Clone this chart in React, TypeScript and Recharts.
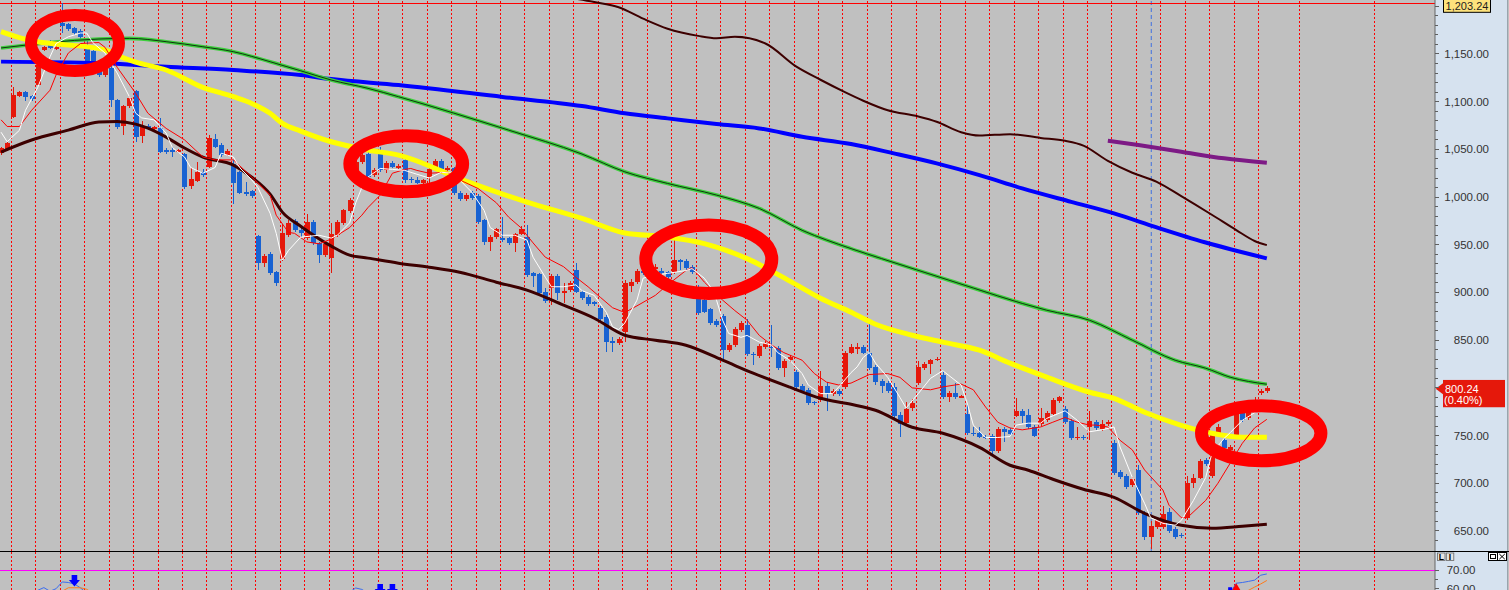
import React from 'react'
import {
  ComposedChart,
  Bar,
  Line,
  XAxis,
  YAxis,
  ReferenceLine,
  ReferenceDot,
} from 'recharts'

// ---- candles (one entry per bar) ----
const OPEN = [
  1046, 1050, 1084, 1106, 1110, 1106, 1118, 1154, 1159, 1155,
  1183, 1181, 1177, 1174, 1155, 1153, 1140, 1128, 1135, 1102,
  1074, 1095, 1111, 1064, 1075, 1071, 1072, 1049, 1049, 1047,
  1045, 1012, 1017, 1026, 1032, 1061, 1055, 1044, 1035, 1026,
  1005, 1006, 959, 931, 940, 921, 935, 960, 975, 966,
  957, 974, 952, 939, 936, 960, 973, 985, 1025, 1037,
  1045, 1023, 1046, 1028, 1036, 1031, 1039, 1019, 1018, 1015,
  1021, 1031, 1038, 1028, 1030, 1004, 998, 1004, 1001, 976,
  953, 958, 957, 957, 952, 961, 958, 920, 919, 900,
  905, 917, 899, 903, 924, 901, 895, 890, 884, 874,
  849, 847, 859, 907, 911, 923, 922, 925, 922, 921,
  921, 934, 933, 927, 905, 892, 883, 870, 875, 840,
  845, 861, 866, 836, 833, 843, 843, 842, 821, 829,
  817, 802, 798, 785, 787, 802, 794, 797, 801, 837,
  841, 843, 837, 822, 807, 805, 801, 772, 763, 779,
  805, 821, 825, 829, 813, 790, 795, 790, 773, 753,
  753, 748.5, 750, 734, 757, 756, 771, 776, 772, 759,
  762, 766, 773, 786, 778, 765, 747, 749, 759, 764,
  757, 762, 742, 712, 708, 698, 714, 669, 644, 654,
  654, 670, 652, 646, 664, 700, 706, 724, 708, 753,
  745, 735, 751, 775, 768, 782, 795, 797,
]
const HIGH = [
  1053, 1058, 1115, 1111, 1111, 1107, 1140, 1158, 1165, 1158,
  1203.24, 1183, 1178, 1176, 1165, 1155, 1142, 1140, 1137, 1103,
  1097, 1106, 1112, 1080, 1077, 1075, 1083, 1051, 1052, 1050,
  1046, 1030, 1037, 1029, 1065, 1066, 1057, 1050, 1039, 1027,
  1016, 1007, 960, 940, 942, 922, 972, 976, 977, 969,
  982, 976, 953, 953, 973, 976, 988, 999, 1040, 1046,
  1047, 1030, 1053, 1038, 1038, 1035, 1041, 1021, 1021, 1019,
  1030, 1040, 1040, 1033, 1032, 1006, 1004, 1006, 1003, 977,
  960, 968, 979, 958, 962, 970, 971, 921, 920, 905,
  919, 919, 910, 912, 931, 903, 897, 891, 886, 876,
  853, 853, 913, 914, 925, 925, 931, 930, 926, 922,
  957, 935, 935, 929, 908, 894, 884, 872, 877, 847,
  864, 870, 872, 838, 846, 849, 866, 844, 830, 834,
  819, 804, 800, 786, 818, 806, 799, 799, 839, 846,
  847, 845, 868, 824, 809, 807, 805, 775, 785, 788,
  828, 827, 830, 832, 818, 797, 805, 793, 783, 759,
  759, 751, 752, 759, 759, 758, 789, 778, 778, 761,
  779, 776, 789, 792, 781, 767, 759, 751, 776, 766,
  766, 766, 745, 714, 710, 707, 719, 671, 660, 664,
  676, 674, 654, 648, 708, 710, 725, 726, 754, 762,
  748, 740, 777, 785, 786, 790, 799, 802,
]
const LOW = [
  1044, 1049, 1083, 1105, 1101, 1101, 1117, 1153, 1155, 1154,
  1172, 1174, 1170, 1166, 1140, 1138, 1126, 1126, 1094, 1071,
  1065, 1093, 1058, 1057, 1070, 1069, 1046, 1045, 1042, 1046,
  1008, 1008, 1016, 1021, 1030, 1051, 1042, 1043, 993, 1003,
  1001, 999, 924, 927, 918, 907, 933, 958, 963, 958,
  955, 950, 931, 937, 920, 958, 971, 983, 1023, 1035,
  1019, 1021, 1026, 1025, 1030, 1029, 1015, 1015, 1014, 1014,
  1015, 1030, 1028, 1027, 1002, 996, 996, 997, 972, 950,
  944, 956, 953, 950, 942, 960, 916, 906, 897, 889,
  887, 892, 889, 901, 899, 892, 886, 886, 870, 838,
  838, 845, 848, 901, 909, 918, 920, 922, 919, 914,
  919, 924, 924, 919, 876, 878, 866, 864, 829, 838,
  843, 859, 833, 824, 831, 841, 832, 819, 811, 827,
  799, 795, 782, 782, 785, 776, 792, 792, 799, 835,
  836, 835, 819, 803, 795, 795, 768, 748, 760, 776,
  803, 819, 815, 828, 788, 785, 788, 789, 751, 750,
  747, 746, 731, 732, 743, 750, 769, 763, 757, 748,
  760, 764, 771, 784, 762, 745, 745, 745, 745, 756,
  755, 760, 709, 705, 694, 696, 667, 641, 631, 652,
  652, 648, 642, 643, 662, 695, 704, 718, 706, 751,
  735, 733, 749, 764, 766, 779, 793, 795,
]
const CLOSE = [
  1051, 1057, 1107, 1110, 1105, 1103, 1138, 1157, 1156, 1157,
  1179, 1176, 1172, 1168, 1142, 1140, 1128, 1136, 1102, 1073,
  1095, 1104, 1063, 1074, 1072, 1073, 1047, 1047, 1048, 1049,
  1011, 1019, 1026, 1023, 1062, 1053, 1044, 1048, 1015, 1004,
  1003, 1001, 931, 938, 920, 910, 962, 973, 965, 962,
  974, 952, 939, 951, 961, 974, 986, 997, 1037, 1044,
  1021, 1028, 1028, 1036, 1032, 1033, 1018, 1018, 1015, 1018,
  1029, 1038, 1029, 1031, 1004, 998, 1002, 999, 974, 953,
  958, 967, 955, 952, 961, 967, 918, 917, 899, 891,
  917, 899, 902, 910, 901, 894, 888, 888, 872, 848,
  847, 851, 910, 911, 922, 920, 929, 927, 921, 916,
  934, 932, 926, 921, 879, 880, 868, 866, 840, 845,
  862, 868, 835, 834, 844, 847, 842, 821, 828, 832,
  801, 797, 784, 784, 802, 794, 797, 794, 837, 843,
  843, 837, 821, 806, 802, 797, 770, 762, 778, 784,
  822, 825, 829, 830, 790, 795, 790, 791, 753, 752,
  748, 748, 734, 757, 754, 752, 776, 770, 759, 750,
  768, 774, 787, 790, 764, 747, 748.5, 747, 765, 758,
  762, 764, 711, 707, 696, 705, 669, 644, 655, 662,
  668, 650, 644, 645, 700, 706, 723, 720, 752, 759,
  737, 738, 775, 766, 780, 787, 797, 800.24,
]

// ---- overlay lines, [bar index, value] ----
const WHITE_MA = [
  [0, 1068], [1, 1058], [3, 1070], [4, 1091], [6, 1115], [8, 1147], [9, 1161], [11, 1168], [13, 1172], [14, 1172],
  [15, 1162], [17, 1151], [19, 1130], [21, 1105], [22, 1088], [23, 1083], [25, 1081], [27, 1067], [28, 1052], [30, 1042],
  [31, 1031], [33, 1025], [35, 1031], [36, 1046], [38, 1042], [39, 1031], [41, 1018], [42, 1010], [44, 983], [45, 962],
  [46, 934], [47, 944], [49, 958], [52, 960], [54, 957], [55, 960], [57, 973], [58, 994], [59, 1010], [60, 1021],
  [62, 1030], [64, 1029], [66, 1028], [68, 1024], [70, 1020], [72, 1026], [74, 1025], [75, 1018], [77, 1005], [79, 986],
  [80, 968], [82, 960], [84, 960], [86, 955], [87, 937], [89, 916], [90, 906], [92, 906], [94, 908], [95, 902],
  [97, 897], [99, 879], [100, 864], [101, 861], [102, 868], [104, 892], [105, 915], [107, 918], [109, 920], [112, 923],
  [113, 925], [115, 915], [116, 906], [117, 892], [118, 871], [119, 857], [121, 853], [122, 855], [124, 848], [126, 845],
  [127, 837], [129, 829], [131, 815], [132, 803], [134, 794], [136, 794], [137, 801], [139, 816], [140, 822], [141, 832],
  [142, 837], [143, 826], [145, 811], [147, 790], [148, 779], [150, 794], [152, 810], [154, 818], [155, 813], [157, 803],
  [158, 784], [159, 761], [161, 748], [163, 748], [165, 749], [166, 761], [168, 763], [170, 763], [171, 768], [174, 776],
  [176, 766], [178, 754], [180, 756], [182, 759], [183, 738], [185, 706], [187, 679], [188, 664], [190, 658], [192, 656],
  [193, 661], [195, 682], [197, 706], [198, 731], [200, 747], [201, 753], [203, 766], [205, 774], [206, 780], [207, 787],
]
const RED_MA = [
  [0, 1081], [1, 1074], [3, 1074], [5, 1091], [8, 1112], [9, 1128], [11, 1151], [13, 1161], [16, 1162], [17, 1157],
  [19, 1136], [22, 1109], [24, 1088], [27, 1072], [30, 1060], [33, 1042], [35, 1039], [38, 1039], [41, 1021], [44, 1002],
  [45, 981], [47, 963], [48, 962], [50, 953], [52, 951], [54, 956], [57, 968], [59, 981], [60, 989], [62, 1002],
  [64, 1025], [66, 1029], [67, 1030], [68, 1028], [70, 1025], [73, 1026], [75, 1018], [78, 1009], [81, 994], [83, 979],
  [85, 968], [87, 952], [89, 937], [92, 927], [94, 916], [96, 906], [98, 895], [100, 884], [102, 879], [104, 886],
  [107, 897], [109, 908], [112, 923], [113, 926], [115, 911], [118, 892], [120, 881], [122, 871], [124, 855], [126, 845],
  [128, 837], [131, 829], [133, 815], [135, 806], [137, 803], [139, 805], [140, 808], [142, 814], [145, 815], [147, 811],
  [149, 800], [152, 798], [154, 801], [157, 804], [159, 798], [161, 780], [163, 764], [165, 758], [167, 756], [170, 759],
  [172, 764], [174, 769], [176, 764], [178, 761], [179, 761], [181, 759], [183, 745], [185, 735], [187, 714], [190, 693],
  [191, 677], [193, 664], [194, 664], [197, 682], [199, 700], [201, 721], [203, 742], [205, 758], [207, 767],
]
const YELLOW_MA = [
  [0, 1173.4], [4, 1165.4], [6, 1162.9], [11, 1159.4], [14, 1157.6], [17, 1154.2], [20, 1146], [22, 1141.6], [27, 1133.2],
  [33, 1115], [38, 1105.2], [41, 1098.2], [44, 1087.8], [46, 1077.3], [49, 1069.2], [54, 1058], [60, 1049.3], [65, 1044],
  [76, 1016.7], [86, 994.7], [95, 977.6], [102, 962.4], [109, 958.2], [115, 951.2], [122, 935.5], [129, 911.9], [134, 894],
  [139, 879.3], [143, 866.7], [149, 855.2], [154, 847.9], [160, 839.5], [165, 825.9], [171, 811.2], [178, 795.4],
  [182, 789.1], [187, 774.4], [193, 760.8], [198, 752.4], [203, 748.2], [207, 748.2],
]
const GREEN_MA = [
  [0, 1156.3], [16, 1165.7], [21, 1166.4], [27, 1162.9], [33, 1157.6], [38, 1152.4], [44, 1141.9], [49, 1132.4],
  [54, 1122.7], [60, 1114], [65, 1105.2], [74, 1088.1], [83, 1070.2], [95, 1045.1], [102, 1026.5], [109, 1014.3],
  [117, 1002.1], [124, 988.1], [131, 965.2], [139, 946], [144, 935.5], [155, 912.9], [171, 881.4], [178, 870.9],
  [185, 850], [192, 829], [197, 820.6], [201, 811.2], [207, 803.8],
]
const BLUE_MA = [
  [0, 1142], [16, 1140.5], [27, 1136.6], [38, 1133.2], [49, 1127.9], [54, 1123.7], [65, 1117.4], [82, 1105],
  [95, 1095.4], [102, 1087.8], [109, 1082.5], [117, 1076.5], [124, 1072], [131, 1063.2], [139, 1055.6], [146, 1045.8],
  [153, 1035.3], [160, 1023], [167, 1009.1], [175, 995], [182, 982.9], [189, 968.2], [197, 952.4], [207, 935.7],
]
const BAND_LOW = [
  [0, 1047.2], [5, 1059.8], [11, 1070.2], [16, 1078.6], [19, 1079.2], [22, 1076.5], [24, 1072.3], [27, 1062.9],
  [30, 1051.4], [33, 1041.9], [38, 1033.5], [41, 1020.9], [44, 1003.1], [46, 984.2], [49, 969.5], [54, 948.6],
  [57, 939.1], [60, 936], [65, 930.7], [70, 926.5], [75, 921.3], [81, 910.8], [86, 902.4], [92, 886.7], [97, 873],
  [102, 855.2], [107, 850], [112, 844.7], [118, 829], [123, 815.4], [129, 800.7], [134, 789.1], [139, 782.8],
  [143, 776.5], [149, 758.7], [154, 752.4], [160, 737.7], [165, 718.9], [168, 713.6], [172, 704.2], [177, 693.7],
  [182, 685.3], [187, 668.5], [193, 655.9], [198, 652.8], [203, 654.9], [207, 657],
]
const BAND_HIGH = [
  [93, 1209], [97, 1204.5], [101, 1199], [105, 1187], [109, 1176.5], [114, 1169], [117, 1166.5], [120, 1168],
  [125, 1161], [130, 1137], [134, 1123], [138, 1110], [141, 1101], [145, 1091], [150, 1084.5], [153, 1079],
  [157, 1068], [160, 1064.5], [165, 1066], [170, 1062], [174, 1059], [177, 1054], [181, 1038], [185, 1025.5],
  [189, 1016], [193, 1001], [198, 981.5], [202, 965.4], [205, 954], [207, 949.6],
]
const PURPLE_MA = [[181, 1059], [186, 1054.5], [193, 1047.5], [200, 1040.6], [207, 1035.9]]

// lower pane (oscillator)
const OSC_BLUE = [
  [5, 57], [6, 59], [7, 60.5], [8, 58.5], [9, 59.9], [10, 63.6], [11, 63.3], [12, 62.5], [13, 60.3], [14, 57.5],
  [57, 58], [58, 60.3], [59, 59.5], [60, 57.5],
  [201, 57.5], [202, 62.9], [203, 63.3], [204, 63.9], [205, 64.6], [206, 67.3], [207, 68],
]
const OSC_ORANGE = [
  [10, 58.5], [11, 60.4], [12, 60.4], [13, 60.4], [14, 59.6], [15, 57.5],
  [203, 57], [204, 59], [205, 60.8], [206, 62.5], [207, 64.4],
]
const SELL_ARROWS = [[12, 67.4], [62, 62.5], [64, 62.5]]
const BUY_MARKS = [[202, 62.9]]
const SIGNAL_BOXES = [[201, 60.7]]

// annotation rings: centre [bar index, price]
const HIGHLIGHTS = [[12.09, 1161.5], [66.26, 1034.9], [115.74, 934.9], [206.08, 752.4]]
const RING_SIZE = [[44, 28, 12], [56.4, 28, 13], [63, 34.3, 13], [59.7, 27.5, 13]]

const PERIOD_HIGH = 1203.24
const LAST_PRICE = 800.24
const LAST_CHANGE = '(0.40%)'
const CURSOR_BAR = 188.1

const PRICE_LABELS = [650, 700, 750, 850, 900, 950, 1000, 1050, 1100, 1150] // 800.00 is under the last-price tag
const PRICE_TICKS = Array.from({ length: 57 }, (_, k) => 640 + k * 10)
const OSC_LABELS = [60, 70]
const OSC_TICKS = [60, 65, 70]

// ---- layout ----
const SLOTS = 235
const X_DOMAIN: [number, number] = [-0.5, SLOTS - 0.5]
const CHART_W = 1511 // svg starts 2px left of the page edge
const MAIN_H = 551
const SUB_TOP = 552
const SUB_H = 38
const AXIS_X = 1437 // price axis, in svg coords
const Y_DOMAIN: [number, number] = [629.0, 1206.6]
const OSC_DOMAIN: [number, number] = [59.18, 80.05]
const FONT = '"Liberation Sans", Arial, sans-serif'
const UP = '#e5180b'
const DOWN = '#1862d2'
const BG = '#c0c0c0'
const PANEL = '#d6e2ef'
const AXIS_TEXT = '#333'

// period separators every 4 bars, then two wider ones in the empty future area
const GRID_X = Array.from({ length: 52 }, (_, k) => 1.675 + 4 * k).concat([212.4, 224.6])

const toMap = (pts: number[][]) => new Map(pts.map(([i, v]) => [i, v]))
const SERIES: Record<string, Map<number, number>> = {
  white: toMap(WHITE_MA),
  red: toMap(RED_MA),
  yellow: toMap(YELLOW_MA),
  green: toMap(GREEN_MA),
  blue: toMap(BLUE_MA),
  bandLow: toMap(BAND_LOW),
  bandHigh: toMap(BAND_HIGH),
  purple: toMap(PURPLE_MA),
  oscBlue: toMap(OSC_BLUE),
  oscOrange: toMap(OSC_ORANGE),
}

const rows = Array.from({ length: SLOTS }, (_, i) => {
  const r: any = { i }
  if (i < CLOSE.length) {
    r.o = OPEN[i]
    r.h = HIGH[i]
    r.l = LOW[i]
    r.c = CLOSE[i]
    r.range = [LOW[i], HIGH[i]]
  }
  for (const [k, m] of Object.entries(SERIES)) r[k] = m.has(i) ? m.get(i) : null
  return r
})

const fmt = (v: number) => v.toLocaleString('en-US', { minimumFractionDigits: 2, maximumFractionDigits: 2 })

function Candle(props: any) {
  const { x, y, width, height } = props
  const p = props.payload ?? props
  if (!p || p.o == null || x == null) return null
  const top = Math.min(y, y + height)
  const span = Math.abs(height)
  const k = p.h > p.l ? span / (p.h - p.l) : 0
  const yo = top + (p.h - p.o) * k
  const yc = top + (p.h - p.c) * k
  const fill = p.c >= p.o ? UP : DOWN
  const left = Math.round(x)
  const bw = Math.round(width)
  const mid = left + Math.floor(bw / 2)
  return (
    <g shapeRendering="crispEdges">
      <rect x={mid} y={top} width={1} height={Math.max(span, 1)} fill={fill} />
      <rect x={left} y={Math.min(yo, yc)} width={bw} height={Math.max(Math.abs(yo - yc), 1.2)} fill={fill} />
    </g>
  )
}

function PriceTick(props: any) {
  const v = props.payload.value
  const y = props.y
  const major = v % 50 === 0
  return (
    <g>
      <line x1={AXIS_X} x2={AXIS_X + (major ? 4 : 2.5)} y1={y} y2={y} stroke="#5f5f5f" shapeRendering="crispEdges" />
      {PRICE_LABELS.includes(v) && (
        <text x={AXIS_X + 54} y={y + 4} textAnchor="end" fontSize={11.5} fill={AXIS_TEXT} fontFamily={FONT}>
          {fmt(v)}
        </text>
      )}
    </g>
  )
}

function OscTick(props: any) {
  const v = props.payload.value
  const y = props.y
  return (
    <g>
      <line x1={AXIS_X} x2={AXIS_X + (OSC_LABELS.includes(v) ? 4 : 2.5)} y1={y} y2={y} stroke="#5f5f5f" shapeRendering="crispEdges" />
      {OSC_LABELS.includes(v) && (
        <text x={AXIS_X + 11.7} y={y + 4} fontSize={11.5} fill={AXIS_TEXT} fontFamily={FONT}>
          {fmt(v)}
        </text>
      )}
    </g>
  )
}

const TopTag = (p: any) => (
  <g>
    <rect x={1445.5} y={p.cy - 5.5} width={47} height={14.6} fill="#fde27c" stroke="#000" strokeWidth={1} />
    <text x={1469} y={p.cy + 7} textAnchor="middle" fontSize={11} fill="#1e1e1e" fontFamily={FONT}>
      {fmt(PERIOD_HIGH)}
    </text>
  </g>
)

const LastTag = (p: any) => (
  <g>
    <path d={`M${AXIS_X + 0.7},${p.cy + 1} L${AXIS_X + 8},${p.cy - 4.5} L${AXIS_X + 8},${p.cy + 6.5} Z`} fill={UP} />
    <rect x={1445} y={p.cy - 7.7} width={62} height={27.3} fill={UP} />
    <text x={1447} y={p.cy + 5} fontSize={11} fill="#fff" fontFamily={FONT}>
      {fmt(LAST_PRICE)}
    </text>
    <text x={1446} y={p.cy + 16.8} fontSize={11} fill="#fff" fontFamily={FONT}>
      {LAST_CHANGE}
    </text>
  </g>
)

const DownArrow = (p: any) => (
  <path
    d={`M${p.cx - 2.8},${p.cy} H${p.cx + 2.8} V${p.cy + 5} H${p.cx + 5.5} L${p.cx},${p.cy + 11.5} L${p.cx - 5.5},${p.cy + 5} H${p.cx - 2.8} Z`}
    fill="#0000ff"
  />
)
const UpTriangle = (p: any) => (
  <path d={`M${p.cx},${p.cy} L${p.cx + 4.2},${p.cy + 7} L${p.cx - 4.2},${p.cy + 7} Z`} fill="#ff0000" />
)
const SignalBox = (p: any) => <rect x={p.cx - 2} y={p.cy} width={4} height={3} fill="#0000ff" />

const noMargin = { top: 0, right: 0, bottom: 0, left: 0 }
const plotMargin = { top: 0, right: 74, bottom: 0, left: 0 }

function gridLines(keyPrefix: string) {
  return GRID_X.map((x) => (
    <ReferenceLine
      key={keyPrefix + x}
      x={x}
      stroke="#ff0000"
      strokeWidth={1}
      strokeDasharray="2 2"
      shapeRendering="crispEdges"
    />
  ))
}

export default function App() {
  const abs = (top: number): React.CSSProperties => ({ position: 'absolute', left: -2, top })
  return (
    <div style={{ position: 'absolute', left: 0, top: 0, width: 1509, height: 590, overflow: 'hidden', background: BG, fontFamily: FONT }}>
      <div style={{ position: 'absolute', left: 1435, top: 0, width: 72, height: 590, background: PANEL, borderRight: '1px solid #9aa4ae' }} />

      {/* background: separators, cursor, period high, price axis */}
      <div style={abs(0)}>
        <ComposedChart width={CHART_W} height={MAIN_H} data={rows} margin={noMargin}>
          <XAxis type="number" dataKey="i" domain={X_DOMAIN} allowDataOverflow hide />
          <YAxis
            orientation="right"
            width={74}
            domain={Y_DOMAIN}
            allowDataOverflow
            ticks={PRICE_TICKS}
            interval={0}
            tickLine={false}
            axisLine={{ stroke: '#666' }}
            tick={(p: any) => <PriceTick {...p} />}
          />
          <Line dataKey="c" stroke="none" dot={false} activeDot={false} isAnimationActive={false} />
          {gridLines('m')}
          <ReferenceLine x={CURSOR_BAR} stroke="#3f6fe0" strokeWidth={1} strokeDasharray="4 3" />
          <ReferenceLine y={PERIOD_HIGH} stroke="#ff0000" strokeWidth={1} shapeRendering="crispEdges" />
          <ReferenceDot x={X_DOMAIN[1] - 1} y={PERIOD_HIGH} ifOverflow="visible" shape={TopTag} />
          <ReferenceDot x={X_DOMAIN[1] - 1} y={LAST_PRICE} ifOverflow="visible" shape={LastTag} />
        </ComposedChart>
      </div>

      {/* candles and averages */}
      <div style={abs(0)}>
        <ComposedChart width={CHART_W} height={MAIN_H} data={rows} margin={plotMargin}>
          <XAxis dataKey="i" type="category" hide />
          <YAxis hide domain={Y_DOMAIN} allowDataOverflow />
          <Bar dataKey="range" barSize={5} shape={Candle} isAnimationActive={false} />
          <Line dataKey="bandHigh" type="monotone" stroke="#3d0000" strokeWidth={2} dot={false} activeDot={false} connectNulls isAnimationActive={false} />
          <Line dataKey="bandLow" type="monotone" stroke="#3d0000" strokeWidth={3} dot={false} activeDot={false} connectNulls isAnimationActive={false} />
          <Line dataKey="blue" type="monotone" stroke="#0000ff" strokeWidth={4} dot={false} activeDot={false} connectNulls isAnimationActive={false} />
          <Line dataKey="green" type="monotone" stroke="#3ccf3c" strokeWidth={3.6} dot={false} activeDot={false} connectNulls isAnimationActive={false} />
          <Line dataKey="green" type="monotone" stroke="#0d1f0d" strokeWidth={0.9} dot={false} activeDot={false} connectNulls isAnimationActive={false} />
          <Line dataKey="yellow" type="monotone" stroke="#ffff00" strokeWidth={5} dot={false} activeDot={false} connectNulls isAnimationActive={false} />
          <Line dataKey="purple" type="monotone" stroke="#7d1a85" strokeWidth={4} dot={false} activeDot={false} connectNulls isAnimationActive={false} />
          <Line dataKey="red" type="linear" stroke="#ff0000" strokeWidth={1} dot={false} activeDot={false} connectNulls isAnimationActive={false} />
          <Line dataKey="white" type="linear" stroke="#ffffff" strokeWidth={1} dot={false} activeDot={false} connectNulls isAnimationActive={false} />
        </ComposedChart>
      </div>

      {/* annotation rings */}
      <div style={abs(0)}>
        <ComposedChart width={CHART_W} height={MAIN_H} data={rows} margin={plotMargin}>
          <XAxis type="number" dataKey="i" domain={X_DOMAIN} allowDataOverflow hide />
          <YAxis hide domain={Y_DOMAIN} allowDataOverflow />
          <Line dataKey="c" stroke="none" dot={false} activeDot={false} isAnimationActive={false} />
          {HIGHLIGHTS.map(([i, v], k) => (
            <ReferenceDot
              key={k}
              x={i}
              y={v}
              ifOverflow="visible"
              shape={(p: any) => (
                <ellipse cx={p.cx} cy={p.cy} rx={RING_SIZE[k][0]} ry={RING_SIZE[k][1]} fill="none" stroke="#ff0000" strokeWidth={RING_SIZE[k][2]} />
              )}
            />
          ))}
        </ComposedChart>
      </div>

      <div style={{ position: 'absolute', left: 0, top: 551, width: 1509, height: 1, background: '#000' }} />

      {/* oscillator pane */}
      <div style={abs(SUB_TOP)}>
        <ComposedChart width={CHART_W} height={SUB_H} data={rows} margin={noMargin}>
          <XAxis type="number" dataKey="i" domain={X_DOMAIN} allowDataOverflow hide />
          <YAxis
            orientation="right"
            width={74}
            domain={OSC_DOMAIN}
            allowDataOverflow
            ticks={OSC_TICKS}
            interval={0}
            tickLine={false}
            axisLine={{ stroke: '#666' }}
            tick={(p: any) => <OscTick {...p} />}
          />
          {gridLines('s')}
          <ReferenceLine y={70} stroke="#ff00ff" strokeWidth={1} shapeRendering="crispEdges" />
          <Line dataKey="oscBlue" type="linear" stroke="#3a6cf0" strokeWidth={1} dot={false} activeDot={false} isAnimationActive={false} />
          <Line dataKey="oscOrange" type="linear" stroke="#ff7a1a" strokeWidth={1} dot={false} activeDot={false} isAnimationActive={false} />
          {SELL_ARROWS.map(([i, v]) => (
            <ReferenceDot key={'a' + i} x={i} y={v} ifOverflow="visible" shape={DownArrow} />
          ))}
          {BUY_MARKS.map(([i, v]) => (
            <ReferenceDot key={'b' + i} x={i} y={v} ifOverflow="visible" shape={UpTriangle} />
          ))}
          {SIGNAL_BOXES.map(([i, v]) => (
            <ReferenceDot key={'q' + i} x={i} y={v} ifOverflow="visible" shape={SignalBox} />
          ))}
        </ComposedChart>
      </div>

      {/* pane buttons */}
      <svg width={1509} height={590} style={{ position: 'absolute', left: 0, top: 0, pointerEvents: 'none' }}>
        <rect x={1437.5} y={553} width={7.5} height={7.5} fill="#e4e4e4" stroke="#666" strokeWidth={0.8} />
        <text x={1441.3} y={560} textAnchor="middle" fontSize={8.5} fontWeight="bold" fill="#000" fontFamily={FONT}>L</text>
        <rect x={1446.3} y={553} width={7.5} height={7.5} fill="#e4e4e4" stroke="#666" strokeWidth={0.8} />
        <text x={1450} y={560} textAnchor="middle" fontSize={8.5} fontWeight="bold" fill="#000" fontFamily={FONT}>I</text>
        <rect x={1488.5} y={552.5} width={18} height={8} fill="#fff" stroke="#000" strokeWidth={1} />
        <line x1={1497.5} x2={1497.5} y1={552.5} y2={560.5} stroke="#000" strokeWidth={1} />
        <rect x={1490.5} y={554.5} width={5} height={4} fill="none" stroke="#000" strokeWidth={1} />
        <line x1={1499.3} y1={554} x2={1504.8} y2={559.2} stroke="#000" strokeWidth={1} />
        <line x1={1504.8} y1={554} x2={1499.3} y2={559.2} stroke="#000" strokeWidth={1} />
      </svg>
    </div>
  )
}
